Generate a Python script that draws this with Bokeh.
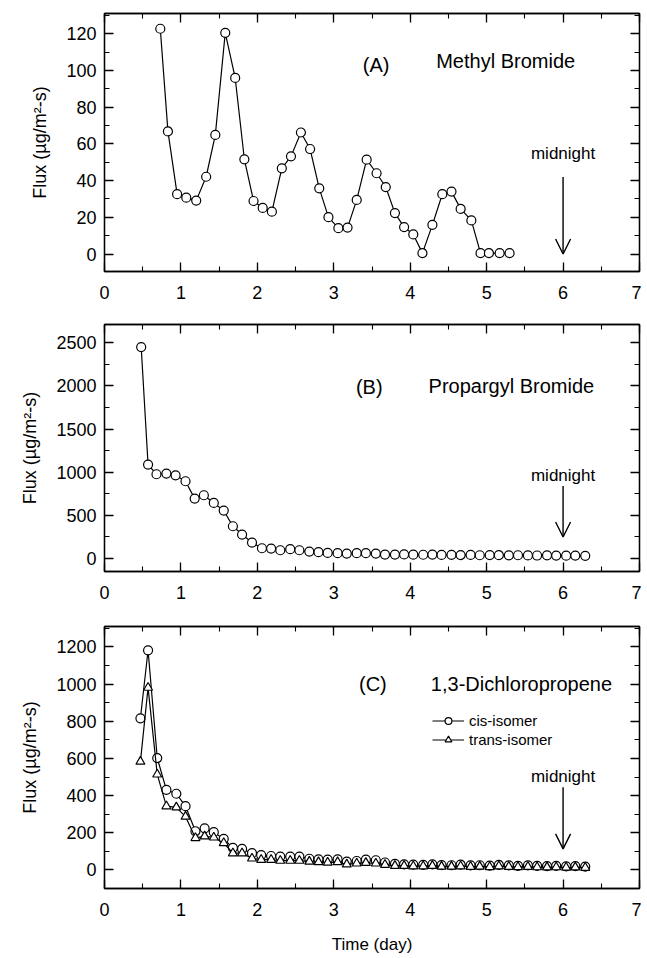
from bokeh.plotting import figure
from bokeh.models import (Range1d, LinearAxis, Label, Arrow, OpenHead, Legend,
                          LegendItem, SingleIntervalTicker)
from bokeh.layouts import column
from bokeh.embed import file_html
from bokeh.resources import INLINE

# ---------------- data ----------------
# (A) Methyl Bromide
mb_time = [0.73, 0.83, 0.95, 1.07, 1.20, 1.33, 1.45, 1.58, 1.71, 1.83, 1.95, 2.07,
           2.19, 2.32, 2.44, 2.57, 2.69, 2.81, 2.93, 3.06, 3.18, 3.30, 3.43, 3.56,
           3.68, 3.80, 3.92, 4.04, 4.16, 4.29, 4.42, 4.54, 4.66, 4.80, 4.92, 5.03,
           5.17, 5.30]
mb_flux = [122.7, 66.8, 32.6, 30.7, 29.1, 42.1, 64.9, 120.5, 95.9, 51.6, 28.9, 25.1,
           23.1, 46.7, 53.2, 66.2, 57.2, 35.8, 20.1, 14.1, 14.4, 29.5, 51.4, 44.0,
           36.5, 22.3, 14.7, 10.7, 0.5, 15.9, 32.6, 34.0, 24.6, 18.3, 0.5, 0.5,
           0.5, 0.5]

# (B) Propargyl Bromide
pb_time = [0.48, 0.57, 0.68, 0.81, 0.93, 1.06, 1.18, 1.30, 1.43, 1.56, 1.68, 1.80,
           1.93, 2.06, 2.18, 2.30, 2.43, 2.55, 2.68, 2.80, 2.92, 3.05, 3.17, 3.30,
           3.42, 3.55, 3.67, 3.80, 3.92, 4.04, 4.17, 4.29, 4.41, 4.54, 4.66, 4.79,
           4.91, 5.04, 5.16, 5.29, 5.41, 5.54, 5.66, 5.79, 5.91, 6.04, 6.16, 6.29]
pb_flux = [2449, 1088, 976, 984, 964, 895, 694, 733, 644, 555, 374, 278,
           185, 119, 116, 96, 108, 96, 81, 74, 65, 62, 58, 62,
           62, 58, 46, 46, 48, 45, 44, 46, 42, 43, 40, 42,
           38, 40, 39, 37, 38, 36, 35, 37, 34, 33, 34, 32]

# (C) 1,3-Dichloropropene
dcp_time = [0.47, 0.57, 0.69, 0.81, 0.94, 1.06, 1.19, 1.31, 1.43, 1.56, 1.68, 1.80,
            1.93, 2.05, 2.18, 2.30, 2.43, 2.55, 2.68, 2.80, 2.92, 3.05, 3.17, 3.30,
            3.42, 3.55, 3.67, 3.80, 3.92, 4.04, 4.17, 4.29, 4.41, 4.54, 4.66, 4.79,
            4.91, 5.04, 5.16, 5.29, 5.41, 5.54, 5.66, 5.79, 5.91, 6.04, 6.16, 6.29]
cis_flux = [816, 1182, 602, 431, 410, 343, 208, 224, 203, 167, 119, 113,
            90, 80, 75, 72, 72, 72, 60, 57, 55, 57, 45, 48,
            55, 52, 40, 32, 30, 28, 27, 30, 26, 25, 28, 24,
            25, 23, 27, 24, 22, 24, 22, 20, 22, 19, 20, 18]
trans_flux = [583, 981, 514, 343, 337, 287, 172, 181, 175, 145, 90, 90,
              62, 55, 55, 50, 50, 50, 45, 42, 40, 42, 30, 35,
              38, 35, 28, 22, 22, 20, 20, 22, 18, 18, 20, 17,
              18, 16, 20, 17, 16, 17, 15, 14, 15, 13, 14, 12]

x_ticks_interval = 1
midnight_day = 6

FONT = "Liberation Sans"


def style_axis(ax, labels=True, label_size="18px", standoff=8):
    ax.axis_line_color = "black"
    ax.axis_line_width = 1.3
    ax.major_tick_line_color = "black"
    ax.major_tick_line_width = 1.3
    ax.minor_tick_line_color = "black"
    ax.minor_tick_line_width = 1.1
    ax.major_tick_in = 9
    ax.major_tick_out = 0
    ax.minor_tick_in = 5
    ax.minor_tick_out = 0
    if labels:
        ax.major_label_text_font = FONT
        ax.major_label_text_font_size = label_size
        ax.major_label_text_color = "black"
        ax.major_label_standoff = standoff
    else:
        ax.major_label_text_font_size = "1px"
        ax.major_label_text_color = None
        ax.major_label_standoff = 0


def make_panel(height, top, bottom, yr, yint):
    p = figure(width=641, height=height, output_backend="svg", toolbar_location=None,
               x_range=Range1d(0, 7), y_range=Range1d(*yr),
               min_border_left=104, min_border_right=2,
               min_border_top=top, min_border_bottom=bottom)
    p.xgrid.visible = False
    p.ygrid.visible = False
    p.outline_line_color = "black"
    p.outline_line_width = 1.3
    xt = SingleIntervalTicker(interval=x_ticks_interval, num_minor_ticks=2)
    yt = SingleIntervalTicker(interval=yint, num_minor_ticks=2)
    bx = p.below[0]
    ly = p.left[0]
    bx.ticker = xt
    ly.ticker = yt
    style_axis(bx, labels=True, standoff=14)
    style_axis(ly, labels=True, standoff=8)
    ly.axis_label = "Flux (µg/m²-s)"
    ly.axis_label_text_font = FONT
    ly.axis_label_text_font_style = "normal"
    ly.axis_label_text_font_size = "18px"
    ly.axis_label_text_color = "black"
    ly.axis_label_standoff = 13
    ra = LinearAxis(ticker=yt)
    style_axis(ra, labels=False)
    p.add_layout(ra, "right")
    ta = LinearAxis(ticker=xt)
    style_axis(ta, labels=False)
    p.add_layout(ta, "above")
    p.background_fill_color = "white"
    p.border_fill_color = "white"
    return p


def series(p, x, y, marker="circle"):
    r1 = p.line(x, y, line_color="black", line_width=1.2)
    r2 = p.scatter(x, y, marker=marker, size=9, fill_color="white",
                   line_color="black", line_width=1.2)
    return r1, r2


def add_text(p, x, y, text, size="20px", align="left"):
    p.add_layout(Label(x=x, y=y, text=text, text_font=FONT, text_font_size=size,
                       text_align=align, text_baseline="middle", text_color="black"))


def add_midnight(p, ytext, ystart, yend):
    add_text(p, midnight_day, ytext, "midnight", size="17px", align="center")
    p.add_layout(Arrow(end=OpenHead(size=15, line_width=1.4, line_color="black"),
                       x_start=midnight_day, y_start=ystart,
                       x_end=midnight_day, y_end=yend,
                       line_width=1.4, line_color="black"))


# ---------- Panel A ----------
pa = make_panel(308, 13, 37, (-9.5, 131), 20)
series(pa, mb_time, mb_flux)
add_text(pa, 3.38, 103, "(A)")
add_text(pa, 4.34, 105, "Methyl Bromide")
add_midnight(pa, 55, 42, 0)

# ---------- Panel B ----------
pb = make_panel(300, 16, 37, (-150, 2710), 500)
series(pb, pb_time, pb_flux)
add_text(pb, 3.29, 1990, "(B)")
add_text(pb, 4.24, 2000, "Propargyl Bromide")
add_midnight(pb, 965, 840, 250)

# ---------- Panel C ----------
pc = make_panel(348, 18, 68, (-100, 1310), 200)
cl, cs = series(pc, dcp_time, cis_flux, "circle")
tl, ts = series(pc, dcp_time, trans_flux, "triangle")
bxc = pc.below[0]
bxc.axis_label = "Time (day)"
bxc.axis_label_text_font = FONT
bxc.axis_label_text_font_style = "normal"
bxc.axis_label_text_font_size = "17px"
bxc.axis_label_text_color = "black"
bxc.axis_label_standoff = 16
add_text(pc, 3.33, 1003, "(C)")
add_text(pc, 4.27, 1003, "1,3-Dichloropropene")
add_midnight(pc, 501, 445, 113)

legend = Legend(items=[LegendItem(label="cis-isomer", renderers=[cl, cs]),
                       LegendItem(label="trans-isomer", renderers=[tl, ts])],
                location=(328, 140), orientation="vertical",
                label_text_font=FONT, label_text_font_size="15px",
                label_text_color="black",
                glyph_width=32, glyph_height=17, label_height=17,
                label_standoff=5, spacing=2, padding=0, margin=0,
                border_line_color=None, background_fill_alpha=0)
pc.add_layout(legend)

layout = column(pa, pb, pc, spacing=0)
open("out.html", "w").write(file_html(layout, INLINE))
